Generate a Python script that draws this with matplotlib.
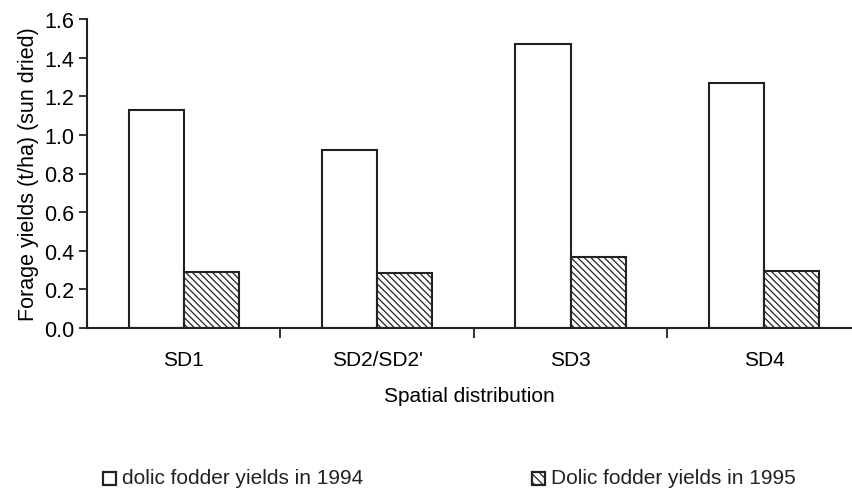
import numpy as np
import matplotlib
matplotlib.use("Agg")
import matplotlib.pyplot as plt
from matplotlib.patches import Rectangle

plt.rcParams['font.family'] = ['Liberation Sans', 'DejaVu Sans']
plt.rcParams['hatch.linewidth'] = 0.9

# data
categories = ['SD1', 'SD2/SD2\'', 'SD3', 'SD4']
yields_1994 = [1.13, 0.92, 1.47, 1.27]
yields_1995 = [0.29, 0.285, 0.37, 0.295]
labels = ['dolic fodder yields in 1994', 'Dolic fodder yields in 1995']

W, H = 852, 489
fig = plt.figure(figsize=(W / 100, H / 100), dpi=100)
ax = fig.add_axes([87 / W, 160 / H, 1 - 87 / W, 309 / H])

x = np.arange(len(categories))
w = 0.285
ax.bar(x - w / 2, yields_1994, w, facecolor='white', edgecolor='#222222', lw=1.5)
ax.bar(x + w / 2, yields_1995, w, facecolor='white', edgecolor='#222222', lw=1.5,
       hatch='\\\\\\\\\\')

ax.set_ylim(0, 1.6)
ax.set_xlim(-0.5, 3.455)
ax.set_yticks(np.arange(0, 1.61, 0.2))
ax.set_yticklabels(['%.1f' % v for v in np.arange(0, 1.61, 0.2)], fontsize=15.5)
ax.set_xticks(x)
ax.set_xticklabels(categories, fontsize=15)
ax.tick_params(axis='x', which='major', length=0, pad=16)
ax.set_xticks(x[:-1] + 0.5, minor=True)
ax.tick_params(axis='x', which='minor', length=7, width=1.3, color='#222222')
ax.tick_params(axis='y', length=6, width=1.3, color='#222222', pad=3)

for s in ['top', 'right']:
    ax.spines[s].set_visible(False)
for s in ['left', 'bottom']:
    ax.spines[s].set_linewidth(1.5)
    ax.spines[s].set_color('#222222')

ax.set_ylabel('Forage yields (t/ha) (sun dried)', fontsize=15.5, labelpad=4)
ax.set_xlabel('Spatial distribution', fontsize=15, labelpad=12)

# legend drawn by hand: a small square and a label for each year
legend_x = [103, 532]
hatches = [None, '\\\\\\\\']
yc = 479
for lx, lab, ht in zip(legend_x, labels, hatches):
    fig.add_artist(Rectangle((lx / W, 1 - (yc + 6.5) / H), 13 / W, 13 / H,
                             transform=fig.transFigure, facecolor='white',
                             edgecolor='#222222', lw=1.6, hatch=ht))
    fig.text((lx + 19) / W, 1 - yc / H, lab, fontsize=15, va='center',
             ha='left', color='#222222')

fig.savefig('out.png', dpi=100)
